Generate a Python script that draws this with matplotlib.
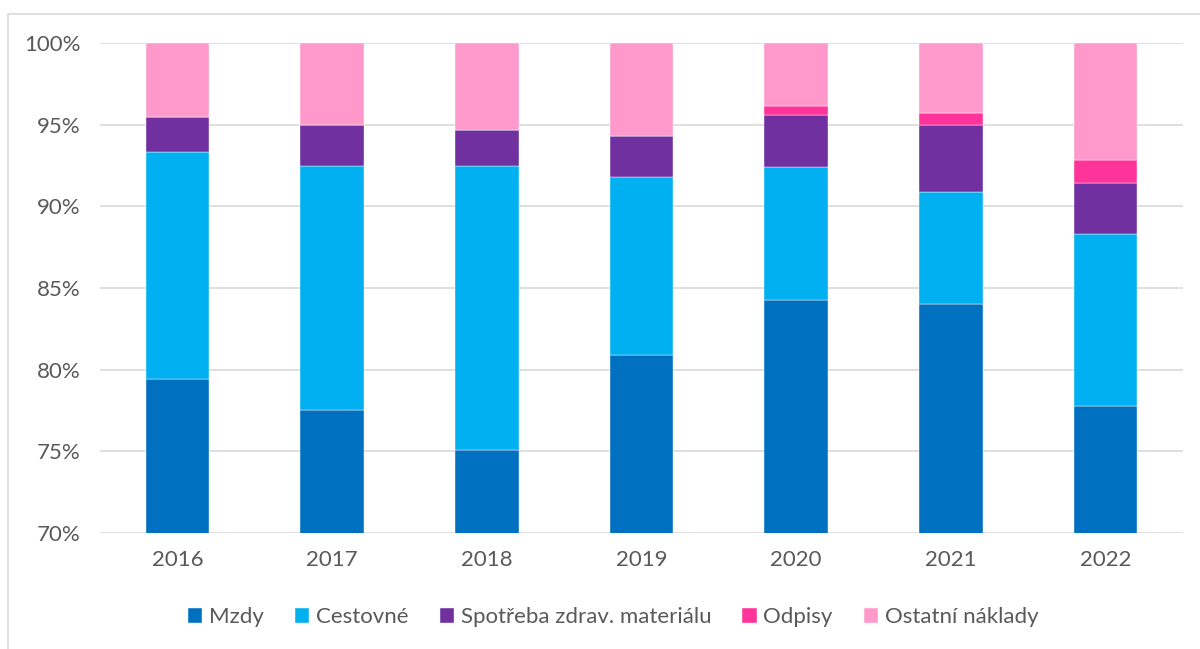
import numpy as np
import matplotlib.pyplot as plt
from matplotlib.patches import Rectangle
from matplotlib.ticker import FuncFormatter

plt.rcParams['font.family'] = ['Lato', 'DejaVu Sans']

# Data (podíl na celkových nákladech, %)
years = ['2016', '2017', '2018', '2019', '2020', '2021', '2022']
mzdy = [79.4, 77.55, 75.1, 80.9, 84.25, 84.0, 77.75]
cestovne = [13.95, 14.95, 17.35, 10.9, 8.15, 6.85, 10.55]
spotreba = [2.15, 2.5, 2.2, 2.5, 3.2, 4.1, 3.15]
odpisy = [0.0, 0.0, 0.0, 0.0, 0.55, 0.75, 1.4]
ostatni = [4.5, 5.0, 5.35, 5.7, 3.85, 4.3, 7.15]

series = [
    ('Mzdy', mzdy, '#0070C0'),
    ('Cestovné', cestovne, '#00B0F0'),
    ('Spotřeba zdrav. materiálu', spotreba, '#7030A0'),
    ('Odpisy', odpisy, '#FF3399'),
    ('Ostatní náklady', ostatni, '#FF99CC'),
]

fig = plt.figure(figsize=(12, 6.49), dpi=100)
ax = fig.add_axes([100 / 1200, 1 - 533 / 649, 1083 / 1200, 490 / 649])

# outer frame (Excel chart area)
fig.patches.append(Rectangle((8 / 1200, -0.1), 1.2, 1 - 14 / 649 + 0.1,
                             transform=fig.transFigure, fill=False,
                             edgecolor='#D9D9D9', linewidth=1.2))

x = np.arange(len(years))
bottom = np.zeros(len(years))
for name, vals, col in series:
    vals = np.array(vals)
    ax.bar(x, vals, 0.41, bottom=bottom, color=col, label=name,
           edgecolor='white', linewidth=0.3, zorder=2)
    bottom += vals

ax.set_ylim(70, 100)
ax.set_xlim(-0.5, len(years) - 0.5)
ax.set_yticks(np.arange(70, 101, 5))
ax.yaxis.set_major_formatter(FuncFormatter(lambda v, p: f'{v:.0f}%'))
ax.set_xticks(x)
ax.set_xticklabels(years)
ax.grid(axis='y', color='#D9D9D9', linewidth=1.2, zorder=0)
ax.set_axisbelow(True)
for s in ax.spines.values():
    s.set_visible(False)
ax.tick_params(axis='both', length=0, labelsize=16, colors='#595959')
ax.tick_params(axis='x', pad=12)
ax.tick_params(axis='y', pad=14)

leg = fig.legend(loc='center', bbox_to_anchor=(0.511, 1 - 617 / 649), ncol=5,
                 frameon=False, fontsize=16, handlelength=0.65, handleheight=0.65,
                 handletextpad=0.3, columnspacing=1.4)
for t in leg.get_texts():
    t.set_color('#595959')

fig.savefig('out.png', dpi=100)
